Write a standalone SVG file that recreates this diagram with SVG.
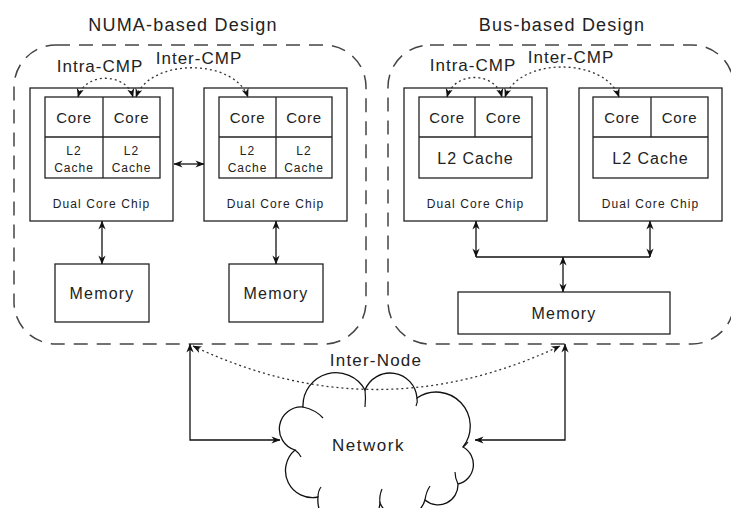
<svg xmlns="http://www.w3.org/2000/svg" width="731" height="508" viewBox="0 0 731 508">
<defs>
<style>
.t{font-family:"Liberation Sans",Arial,sans-serif;fill:#222;text-anchor:middle}
.box{fill:none;stroke:#222;stroke-width:1.3}
.cont{fill:none;stroke:#444;stroke-width:1.5;stroke-dasharray:14 9}
.ln{fill:none;stroke:#111;stroke-width:1.3}
.dot{fill:none;stroke:#333;stroke-width:1.3;stroke-dasharray:2 3}
</style>
<marker id="ah" viewBox="0 0 10 10" refX="9.5" refY="5" markerWidth="9" markerHeight="9" markerUnits="userSpaceOnUse" orient="auto-start-reverse">
<path d="M0,1 L10,5 L0,9 L3,5 Z" fill="#111"/>
</marker>
</defs>
<rect width="731" height="508" fill="#fff"/>

<g id="numa-container">
<rect class="cont" x="14" y="45" width="352" height="299" rx="42"/>
<text class="t" x="183" y="31" font-size="18" letter-spacing="1.2">NUMA-based Design</text>
</g>
<g id="bus-container">
<rect class="cont" x="388" y="45" width="346" height="299" rx="42"/>
<text class="t" x="562" y="31" font-size="18" letter-spacing="1.2">Bus-based Design</text>
</g>

<g id="numa-chip1">
<rect class="box" x="30" y="88" width="143" height="133"/>
<rect class="box" x="45" y="97" width="115" height="81"/>
<line class="box" x1="45" y1="137" x2="160" y2="137"/>
<line class="box" x1="103" y1="97" x2="103" y2="178"/>
<text class="t" x="74" y="123" font-size="15" letter-spacing="0.8">Core</text>
<text class="t" x="131.5" y="123" font-size="15" letter-spacing="0.8">Core</text>
<text class="t" x="74" y="155" font-size="12" letter-spacing="1">L2</text>
<text class="t" x="74" y="172" font-size="12" letter-spacing="1">Cache</text>
<text class="t" x="131.5" y="155" font-size="12" letter-spacing="1">L2</text>
<text class="t" x="131.5" y="172" font-size="12" letter-spacing="1">Cache</text>
<text class="t" x="101.5" y="208" font-size="12" letter-spacing="1.1">Dual Core Chip</text>
</g>
<g id="numa-chip2">
<rect class="box" x="204" y="88" width="143" height="133"/>
<rect class="box" x="219" y="97" width="113" height="81"/>
<line class="box" x1="219" y1="137" x2="332" y2="137"/>
<line class="box" x1="276" y1="97" x2="276" y2="178"/>
<text class="t" x="247.5" y="123" font-size="15" letter-spacing="0.8">Core</text>
<text class="t" x="304" y="123" font-size="15" letter-spacing="0.8">Core</text>
<text class="t" x="247.5" y="155" font-size="12" letter-spacing="1">L2</text>
<text class="t" x="247.5" y="172" font-size="12" letter-spacing="1">Cache</text>
<text class="t" x="304" y="155" font-size="12" letter-spacing="1">L2</text>
<text class="t" x="304" y="172" font-size="12" letter-spacing="1">Cache</text>
<text class="t" x="275.5" y="208" font-size="12" letter-spacing="1.1">Dual Core Chip</text>
</g>
<g id="numa-mem1">
<rect class="box" x="55" y="264" width="94" height="58"/>
<text class="t" x="102" y="299" font-size="16" letter-spacing="1.2">Memory</text>
</g>
<g id="numa-mem2">
<rect class="box" x="229" y="264" width="94" height="58"/>
<text class="t" x="276" y="299" font-size="16" letter-spacing="1.2">Memory</text>
</g>

<g id="bus-chip1">
<rect class="box" x="404" y="88" width="143" height="133"/>
<rect class="box" x="419" y="97" width="113" height="81"/>
<line class="box" x1="419" y1="137" x2="532" y2="137"/>
<line class="box" x1="475" y1="97" x2="475" y2="137"/>
<text class="t" x="447" y="123" font-size="15" letter-spacing="0.8">Core</text>
<text class="t" x="503.5" y="123" font-size="15" letter-spacing="0.8">Core</text>
<text class="t" x="475.5" y="164" font-size="16" letter-spacing="1">L2 Cache</text>
<text class="t" x="475.5" y="208" font-size="12" letter-spacing="1.1">Dual Core Chip</text>
</g>
<g id="bus-chip2">
<rect class="box" x="579" y="88" width="143" height="133"/>
<rect class="box" x="593" y="97" width="115" height="81"/>
<line class="box" x1="593" y1="137" x2="708" y2="137"/>
<line class="box" x1="651" y1="97" x2="651" y2="137"/>
<text class="t" x="622" y="123" font-size="15" letter-spacing="0.8">Core</text>
<text class="t" x="679.5" y="123" font-size="15" letter-spacing="0.8">Core</text>
<text class="t" x="650.5" y="164" font-size="16" letter-spacing="1">L2 Cache</text>
<text class="t" x="650.5" y="208" font-size="12" letter-spacing="1.1">Dual Core Chip</text>
</g>
<g id="bus-mem">
<rect class="box" x="458" y="292" width="212" height="42"/>
<text class="t" x="564" y="319" font-size="16" letter-spacing="1.2">Memory</text>
</g>

<g id="network">
<path d="M295,450 A22,22 0 0 1 303,407 A33,33 0 0 1 365,390 A27,27 0 0 1 417,398 A34,34 0 0 1 463,447 A20,20 0 0 1 458,484 A20,20 0 0 1 425,500 A24,24 0 0 1 380,503 A31,31 0 0 1 318,497 A27,27 0 0 1 295,450 Z" fill="#fff" stroke="#111" stroke-width="1.3"/>
<path d="M303,407 Q316,410 323,418 M365,390 Q366,398 365,407 M417,398 Q418,402 416,406 M463,447 Q466,445 468,442 M458,484 Q455,478 455,472 M425,500 Q426,492 430,486 M380,503 Q379,496 382,489 M318,497 Q318,491 321,487 M295,450 Q299,453 301,457" fill="none" stroke="#111" stroke-width="1.2"/>
<text class="t" x="368.5" y="451" font-size="17" letter-spacing="1.5">Network</text>
</g>

<g id="connectors">
<line class="ln" x1="174" y1="164" x2="204" y2="164" marker-start="url(#ah)" marker-end="url(#ah)"/>
<line class="ln" x1="102" y1="221" x2="102" y2="264" marker-start="url(#ah)" marker-end="url(#ah)"/>
<line class="ln" x1="276" y1="221" x2="276" y2="264" marker-start="url(#ah)" marker-end="url(#ah)"/>
<line class="ln" x1="476" y1="221" x2="476" y2="257" marker-start="url(#ah)" marker-end="url(#ah)"/>
<line class="ln" x1="650" y1="221" x2="650" y2="257" marker-start="url(#ah)" marker-end="url(#ah)"/>
<line class="ln" x1="476" y1="257" x2="650" y2="257"/>
<line class="ln" x1="563" y1="257" x2="563" y2="292" marker-start="url(#ah)" marker-end="url(#ah)"/>
<path class="ln" d="M190,344 L190,440 L280,440" marker-start="url(#ah)" marker-end="url(#ah)"/>
<path class="ln" d="M565,344 L565,440 L475,440" marker-start="url(#ah)" marker-end="url(#ah)"/>
<path class="dot" d="M78,97 C85,72 126,72 133,97" marker-start="url(#ah)" marker-end="url(#ah)"/>
<path class="dot" d="M136,97 C150,58 234,58 248,97" marker-start="url(#ah)" marker-end="url(#ah)"/>
<path class="dot" d="M447,97 C454,71 495,71 502,97" marker-start="url(#ah)" marker-end="url(#ah)"/>
<path class="dot" d="M505,97 C519,57 605,57 619,97" marker-start="url(#ah)" marker-end="url(#ah)"/>
<path class="dot" d="M193,346 Q376,433 560,346" marker-start="url(#ah)" marker-end="url(#ah)"/>
<text class="t" x="100" y="72" font-size="17" letter-spacing="1">Intra-CMP</text>
<text class="t" x="199" y="64" font-size="17" letter-spacing="1">Inter-CMP</text>
<text class="t" x="473" y="71" font-size="17" letter-spacing="1">Intra-CMP</text>
<text class="t" x="571" y="63" font-size="17" letter-spacing="1">Inter-CMP</text>
<text class="t" x="376" y="366" font-size="17" letter-spacing="1.2">Inter-Node</text>
</g>
</svg>
